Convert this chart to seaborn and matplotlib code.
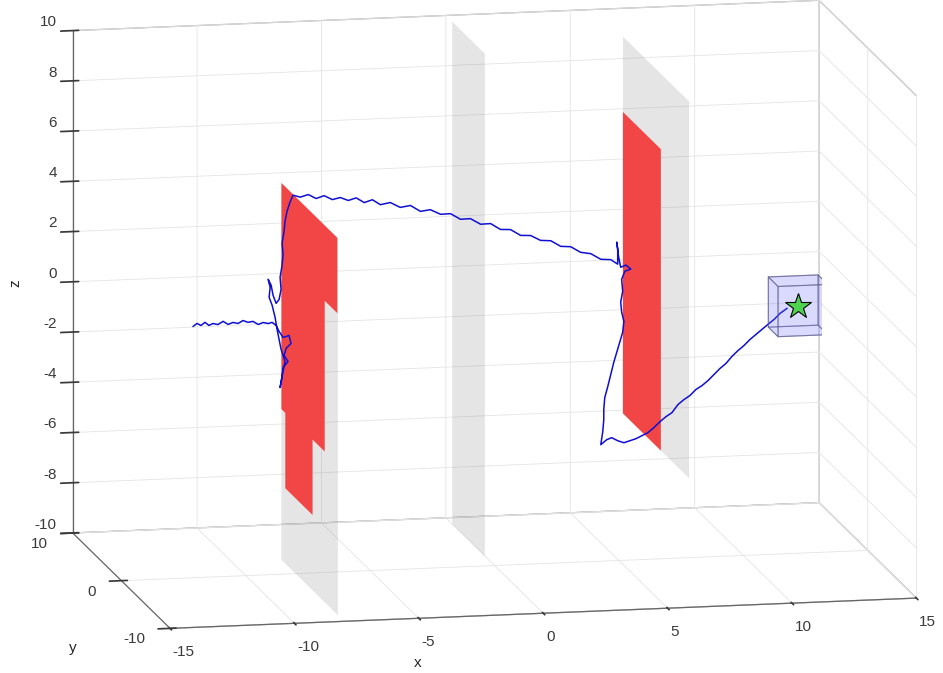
import numpy as np
import matplotlib
matplotlib.use("Agg")
import matplotlib.pyplot as plt
import seaborn as sns
from mpl_toolkits.mplot3d.art3d import Poly3DCollection

# ---------------- data ----------------
# flight path (x, y, z) of the drone, start -> goal
path_x = [-12.12, -11.96, -11.80, -11.64, -11.48, -11.32, -11.12, -10.91, -10.71, -10.51,
          -10.31, -10.11, -9.91, -9.71, -9.50, -9.30, -9.10, -8.94, -8.78,
          -8.66, -8.50, -8.26, -8.18, -8.38, -8.46, -8.30, -8.50, -8.54, -8.62,
          -8.54, -8.42, -8.58, -8.66, -8.74, -8.82, -8.94, -9.06, -9.02, -9.10, -8.98, -8.90, -8.78, -8.66,
          -8.58, -8.62, -8.54, -8.50, -8.54, -8.46, -8.42, -8.34, -8.22, -8.10,
          -7.81, -7.49, -7.17, -6.85, -6.52, -6.20, -5.88, -5.56, -5.24, -4.91, -4.59, -4.19, -3.79,
          -3.38, -2.98, -2.58, -2.17, -1.77, -1.37, -0.97, -0.56, -0.16, 0.24, 0.64, 1.05, 1.45,
          1.85, 2.26, 2.66, 3.06, 3.46, 3.87, 4.27, 4.67, 4.95,
          4.95, 4.91, 4.99, 5.07, 5.28, 5.48, 5.24, 5.11, 5.15, 5.07, 5.11, 5.20, 5.15, 5.03, 4.91,
          4.79, 4.67, 4.55, 4.43, 4.39, 4.39, 4.35, 4.27,
          4.51, 4.71, 4.95, 5.20, 5.44, 5.68, 5.92, 6.16, 6.40, 6.65, 6.89, 7.13, 7.37, 7.61, 7.85,
          8.09, 8.34, 8.58, 8.82, 9.06, 9.30, 9.54, 9.79, 10.03, 10.27, 10.51, 10.75, 10.99, 11.24,
          11.48, 11.76]
path_z = [0.00, 0.12, 0.03, 0.15, 0.02, 0.09, 0.04, 0.16, 0.03, 0.10,
          0.05, 0.16, 0.08, 0.11, -0.02, 0.05, 0.00, 0.04, -0.09,
          -0.33, -0.58, -0.51, -0.83, -1.02, -1.30, -1.54, -1.78, -2.17, -2.57,
          -2.09, -1.54, -1.05, -0.65, -0.25, 0.23, 0.72, 1.04, 1.44, 1.76, 1.52, 1.11, 0.79, 0.94,
          1.34, 1.82, 2.30, 2.73, 3.18, 3.65, 4.05, 4.44, 4.80, 5.07,
          4.98, 5.07, 4.90, 5.00, 4.83, 4.90, 4.77, 4.86, 4.66, 4.76, 4.55, 4.62, 4.41,
          4.47, 4.22, 4.27, 4.07, 4.08, 3.84, 3.85, 3.61, 3.62, 3.37, 3.35, 3.10, 3.08,
          2.87, 2.84, 2.60, 2.57, 2.33, 2.26, 2.02, 1.99, 1.80,
          2.40, 2.68, 2.08, 1.67, 1.75, 1.58, 1.51, 1.19, 0.71, 0.28, -0.12, -0.49, -0.92, -1.32, -1.71,
          -2.11, -2.58, -3.06, -3.49, -3.97, -4.37, -4.84, -5.36,
          -5.17, -5.10, -5.23, -5.32, -5.25, -5.18, -5.07, -4.96, -4.77, -4.54, -4.35, -4.20, -3.89, -3.70, -3.55,
          -3.32, -3.17, -2.98, -2.75, -2.52, -2.33, -2.06, -1.83, -1.64, -1.41, -1.22, -1.03, -0.84, -0.65,
          -0.42, -0.23]
path_y = [0.0] * len(path_x)

# walls: x position, y extent, z extent
wall_x = [-8.0, 0.0, 6.0]
wall_y = [(-8.7, 2.9), (2.0, 8.7), (-9.3, 4.3)]
wall_z = [(-10.0, 5.0), (-10.0, 10.0), (-5.0, 10.0)]

# openings (red) as outlines in the (y, z) plane of their wall
opening_wall = [0, 2]
opening_y = [[2.9, -8.6, -8.6, -6.0, -6.0, -3.5, -3.5, 2.1, 2.1, 2.9],
             [4.3, -3.5, -3.5, 4.3]]
opening_z = [[5.0, 5.0, 2.0, 2.0, -4.0, -4.0, -7.0, -7.0, -4.0, -4.0],
             [7.0, 7.0, -5.0, -5.0]]

# goal region
goal = (12.2, 0.0, -0.15)
goal_half = 1.0

x_ticks = [-15, -10, -5, 0, 5, 10, 15]
y_ticks = [-10, 0, 10]
z_ticks = [-10, -8, -6, -4, -2, 0, 2, 4, 6, 8, 10]

# ---------------- style ----------------
sns.set_theme(style="white")
plt.rcParams["font.family"] = ["Liberation Sans", "DejaVu Sans"]
plt.rcParams.update({
    "axes.unicode_minus": False,
    "grid.color": "#e4e4e4",
    "grid.linewidth": 0.6,
    "axes.edgecolor": "#8c8c8c",
    "axes.linewidth": 0.9,
    "xtick.color": "#3a3a3a",
    "ytick.color": "#3a3a3a",
    "xtick.labelsize": 11,
    "ytick.labelsize": 11,
    "axes.labelsize": 11,
    "text.color": "#262626",
    "axes.labelcolor": "#262626",
})
palette = sns.color_palette(["#0f0fd2", "#f24646", "#7f7f7f", "#4fd34f", "#6b6bff"])
path_color, red_color, wall_color, star_color, box_color = palette

fig = plt.figure(figsize=(9.43, 6.73), dpi=100)
ax = fig.add_axes([0.0148, 0.0194, 1.0, 1.0], projection="3d", proj_type="ortho",
                  computed_zorder=False)
ax.view_init(elev=11.5, azim=-101.5)
ax.set_box_aspect((1.56, 1.0, 1.05), zoom=1.5)
ax.set_xlim(-15, 15)
ax.set_ylim(-10, 10)
ax.set_zlim(-10, 10)

for axis in (ax.xaxis, ax.yaxis, ax.zaxis):
    axis.set_pane_color((1, 1, 1, 1))
    axis.pane.set_edgecolor("#a6a6a6")
    axis.pane.set_linewidth(0.9)
    axis.line.set_color("#666666")

ax.set_xticks(x_ticks)
ax.set_yticks(y_ticks)
ax.set_zticks(z_ticks)
ax.tick_params(axis="x", pad=-1.0)
ax.tick_params(axis="y", pad=0.5)
ax.tick_params(axis="z", pad=-3.2)
for lab in ax.get_xticklabels():
    lab.set_ha("left")
for lab in ax.get_yticklabels():
    lab.set_ha("right")
    lab.set_va("bottom")
for lab in ax.get_zticklabels():
    lab.set_ha("right")
    lab.set_va("bottom")
ax.grid(True)

# axis titles
fig.text(418 / 943, 1 - 663 / 673, "x", ha="center", va="center", fontsize=11, color="#262626")
fig.text(73 / 943, 1 - 648 / 673, "y", ha="center", va="center", fontsize=11, color="#262626")
fig.text(15 / 943, 1 - 283 / 673, "z", ha="center", va="center", fontsize=11, color="#262626",
         rotation=90)

# gray walls
for xw, (y0, y1), (z0, z1) in zip(wall_x, wall_y, wall_z):
    quad = [[(xw, y0, z0), (xw, y1, z0), (xw, y1, z1), (xw, y0, z1)]]
    ax.add_collection3d(Poly3DCollection(quad, facecolors=[(*wall_color, 0.2)],
                                         edgecolors="none", zorder=2))

# red openings
for wi, ys, zs in zip(opening_wall, opening_y, opening_z):
    xw = wall_x[wi]
    poly = [[(xw, yy, zz) for yy, zz in zip(ys, zs)]]
    ax.add_collection3d(Poly3DCollection(poly, facecolors=[red_color],
                                         edgecolors="none", zorder=3))

# path
ax.plot(path_x, path_y, path_z, color=path_color, lw=1.1, zorder=5)

# goal box
gx, gy, gz = goal
h = goal_half
c = np.array([[gx + sx * h, gy + sy * h, gz + sz * h]
              for sx in (-1, 1) for sy in (-1, 1) for sz in (-1, 1)])
faces_idx = [[0, 1, 3, 2], [4, 5, 7, 6], [0, 1, 5, 4], [2, 3, 7, 6], [0, 2, 6, 4], [1, 3, 7, 5]]
faces = [[tuple(c[i]) for i in f] for f in faces_idx]
ax.add_collection3d(Poly3DCollection(faces, facecolors=[(*box_color, 0.13)],
                                     edgecolors=[(0.35, 0.35, 0.55, 0.55)],
                                     linewidths=0.8, zorder=6))
ax.plot([gx], [gy], [gz], marker="*", markersize=19, color=star_color,
        markeredgecolor="black", markeredgewidth=0.8, linestyle="none", zorder=7)

fig.savefig("out.png", dpi=100, facecolor="white")
